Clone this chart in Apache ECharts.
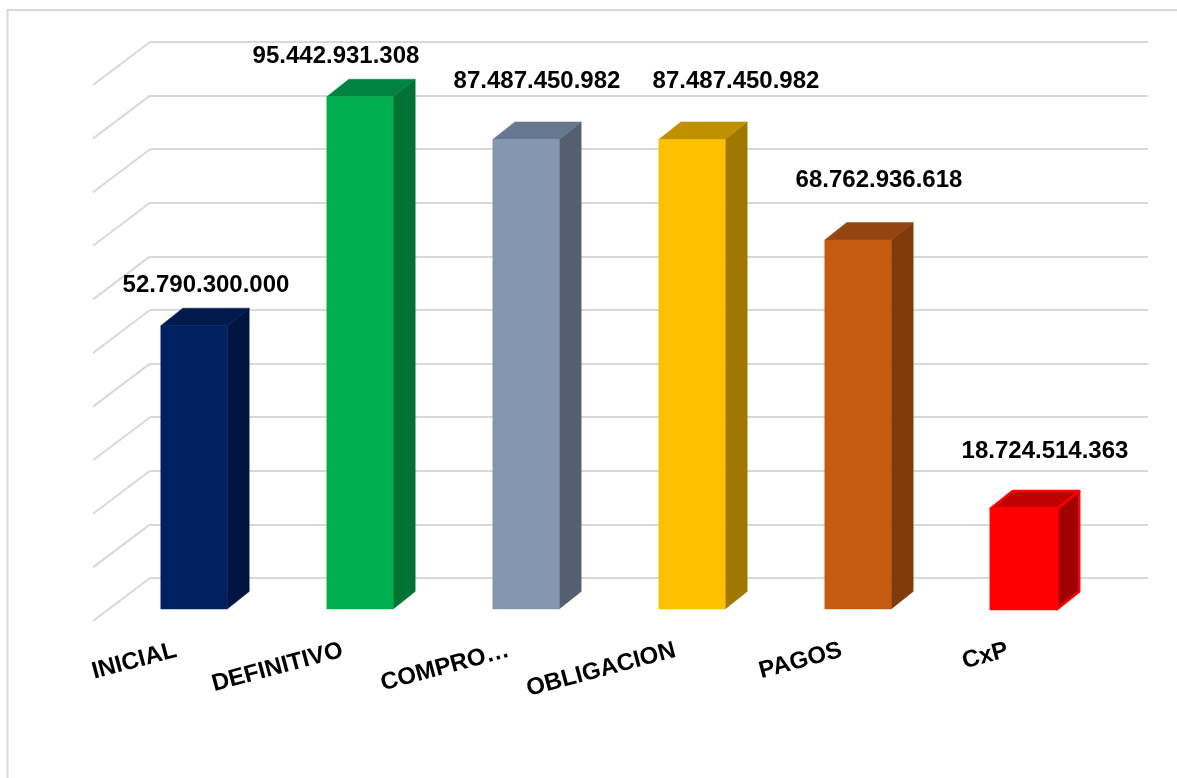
<!DOCTYPE html>
<html>
<head>
<meta charset="utf-8">
<script src="https://cdn.jsdelivr.net/npm/echarts@6/dist/echarts.min.js"></script>
<style>
  html, body { margin: 0; padding: 0; background: #fff; }
  #chart { width: 1177px; height: 778px; }
</style>
</head>
<body>
<div id="chart"></div>
<script>
var categories = ['INICIAL', 'DEFINITIVO', 'COMPRO…', 'OBLIGACION', 'PAGOS', 'CxP'];
var values = [52790300000, 95442931308, 87487450982, 87487450982, 68762936618, 18724514363];
var wallTicks = [0, 10e9, 20e9, 30e9, 40e9, 50e9, 60e9, 70e9, 80e9, 90e9, 100e9];

// colours of the three visible faces of each bar
var frontColors = ['#002060', '#00B050', '#8497B0', '#FFC000', '#C55A11', '#FF0000'];
var topColors   = ['#001a4c', '#008340', '#667890', '#bf9000', '#944410', '#c00000'];
var sideColors  = ['#001540', '#007233', '#545f72', '#a07800', '#803a0c', '#a00000'];
// label nudges (x, y) relative to top of the front face
var labelNudge = [[12, -40], [-24, -40], [11, -58], [44, -58], [21, -60], [21, -57]];

var font = '"Liberation Sans", Arial, sans-serif';
var depthX = 22, depthY = 17.5;   // bar depth
var wallX = 57, wallY = 43;       // floor depth

function fmt(v) {
    return String(v).replace(/\B(?=(\d{3})+(?!\d))/g, '.');
}

var myChart = echarts.init(document.getElementById('chart'));

var option = {
    backgroundColor: '#fff',
    animation: false,
    graphic: [{
        type: 'rect',
        shape: { x: 7.5, y: 10, width: 1400, height: 1000 },
        style: { fill: 'none', stroke: '#d9d9d9', lineWidth: 2 },
        silent: true
    }],
    grid: [
        { left: 150, right: 29, top: 42, bottom: 200 },   // back wall
        { left: 111, right: 70, top: 72.3, bottom: 169 }, // bar plane
        { left: 93, right: 86, top: 85, bottom: 157 }     // front floor edge
    ],
    xAxis: [
        { type: 'category', gridIndex: 0, data: categories, show: false },
        { type: 'category', gridIndex: 1, data: categories, show: false },
        {
            type: 'category', gridIndex: 2, data: categories,
            axisLine: { show: false }, axisTick: { show: false },
            axisLabel: {
                interval: 0, rotate: 15, margin: 29,
                color: '#000', fontSize: 24, fontWeight: 'bold', fontFamily: font
            }
        }
    ],
    yAxis: [
        {
            type: 'value', gridIndex: 0, min: 0, max: 100e9, interval: 10e9,
            axisLabel: { show: false }, axisLine: { show: false }, axisTick: { show: false },
            splitLine: { lineStyle: { color: '#d9d9d9', width: 2 } }
        },
        {
            type: 'value', gridIndex: 1, min: 0, max: 100e9, interval: 10e9,
            show: false, splitLine: { show: false }
        },
        {
            type: 'value', gridIndex: 2, min: 0, max: 100e9,
            show: false, splitLine: { show: false }
        }
    ],
    series: [
        {
            // side wall diagonals
            type: 'custom',
            xAxisIndex: 0, yAxisIndex: 0,
            clip: false, silent: true,
            data: wallTicks.map(function (v) { return [0, v]; }),
            renderItem: function (params, api) {
                var p = api.coord([0, api.value(1)]);
                var left = p[0] - api.size([1, 0])[0] / 2;
                return {
                    type: 'line',
                    shape: { x1: left, y1: p[1], x2: left - wallX, y2: p[1] + wallY },
                    style: { stroke: '#d9d9d9', lineWidth: 2 }
                };
            }
        },
        {
            type: 'custom',
            xAxisIndex: 1, yAxisIndex: 1,
            clip: false,
            data: values.map(function (v, i) { return [i, v]; }),
            renderItem: function (params, api) {
                var i = params.dataIndex;
                var top = api.coord([api.value(0), api.value(1)]);
                var base = api.coord([api.value(0), 0]);
                var w = api.size([1, 0])[0] * 0.4;
                var x0 = top[0] - w / 2, x1 = top[0] + w / 2;
                var yt = top[1], yb = base[1];
                var red = i === 5;
                var edge = function (c) {
                    return red ? { stroke: '#ff0000', lineWidth: 2.5, lineJoin: 'round' }
                               : { stroke: c, lineWidth: 0.5 };
                };
                return {
                    type: 'group',
                    children: [
                        {
                            type: 'polygon',
                            shape: { points: [[x1, yt], [x1 + depthX, yt - depthY], [x1 + depthX, yb - depthY], [x1, yb]] },
                            style: Object.assign({ fill: sideColors[i] }, edge(sideColors[i]))
                        },
                        {
                            type: 'polygon',
                            shape: { points: [[x0, yt], [x1, yt], [x1 + depthX, yt - depthY], [x0 + depthX, yt - depthY]] },
                            style: Object.assign({ fill: topColors[i] }, edge(topColors[i]))
                        },
                        {
                            type: 'rect',
                            shape: { x: x0, y: yt, width: w, height: yb - yt },
                            style: Object.assign({ fill: frontColors[i] }, edge(frontColors[i]))
                        },
                        {
                            type: 'text',
                            x: top[0] + labelNudge[i][0],
                            y: yt + labelNudge[i][1],
                            style: {
                                text: fmt(api.value(1)),
                                fill: '#000',
                                font: 'bold 24px ' + font,
                                align: 'center',
                                verticalAlign: 'middle'
                            }
                        }
                    ]
                };
            }
        }
    ]
};
myChart.setOption(option);
</script>
</body>
</html>
